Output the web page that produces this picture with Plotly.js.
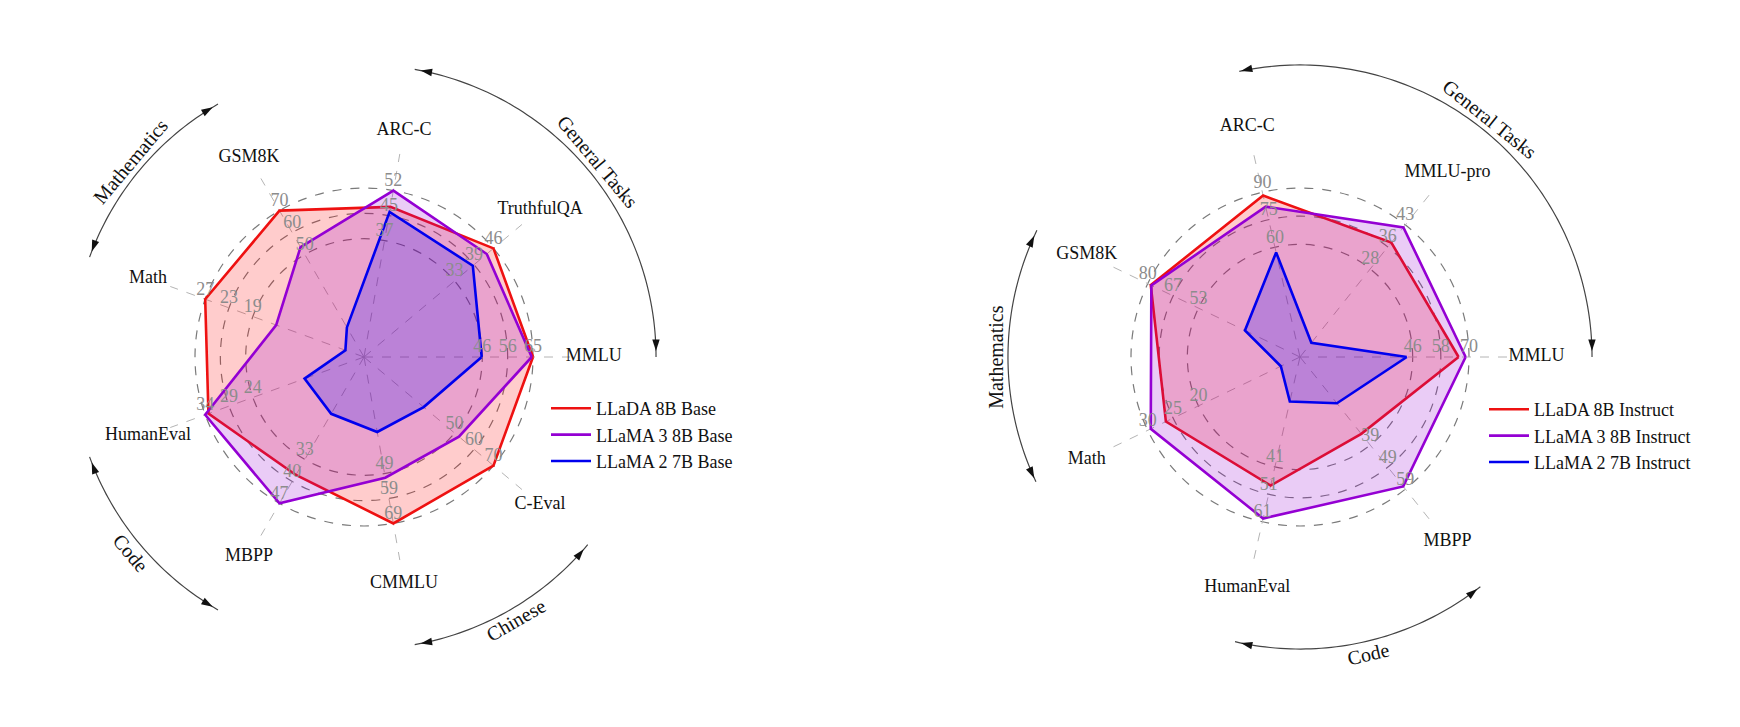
<!DOCTYPE html>
<html>
<head>
<meta charset="utf-8">
<script src="https://cdn.plot.ly/plotly-3.0.1.min.js"></script>
<style>
html, body { margin: 0; padding: 0; background: #fff; }
#chart { width: 1740px; height: 727px; }
</style>
</head>
<body>
<div id="chart"></div>
<script>
// ---- Base models (left radar) ----
const baseCategories = ['MMLU', 'TruthfulQA', 'ARC-C', 'GSM8K', 'Math', 'HumanEval', 'MBPP', 'CMMLU', 'C-Eval'];
const baseLLaDA  = [65.9, 46.4, 47.9, 70.7, 27.3, 33.5, 38.2, 69.9, 70.5];
const baseLLaMA3 = [65.4, 44.0, 53.1, 53.1, 15.1, 34.2, 47.4, 50.7, 51.7];
const baseLLaMA2 = [45.9, 39.0, 46.3, 14.3, 3.2, 12.8, 18.4, 31.5, 32.5];
// value that sits on the outer ring of each axis
const baseScale  = [65.9, 46.4, 53.1, 70.7, 27.3, 34.2, 47.4, 69.9, 70.5];
const baseTickLabels = [
    ['46', '56', '65'], ['33', '39', '46'], ['37', '45', '52'],
    ['50', '60', '70'], ['19', '23', '27'], ['24', '29', '34'],
    ['33', '40', '47'], ['49', '59', '69'], ['50', '60', '70']
];
const baseGroups = [
    { name: 'General Tasks', from: 0, to: 2 },
    { name: 'Mathematics', from: 3, to: 4 },
    { name: 'Code', from: 5, to: 6 },
    { name: 'Chinese', from: 7, to: 8 }
];
const baseNames = ['LLaDA 8B Base', 'LLaMA 3 8B Base', 'LLaMA 2 7B Base'];

// ---- Instruct models (right radar) ----
const instCategories = ['MMLU', 'MMLU-pro', 'ARC-C', 'GSM8K', 'Math', 'HumanEval', 'MBPP'];
const instLLaDA  = [65.5, 37.0, 88.5, 78.6, 26.6, 47.6, 34.2];
const instLLaMA3 = [68.4, 41.9, 82.4, 78.3, 29.6, 59.8, 57.6];
const instLLaMA2 = [44.1, 4.6, 57.3, 29.0, 3.8, 16.5, 20.6];
const instScale  = [69.8, 42.7, 90.3, 80.2, 30.2, 61.0, 58.8];
const instTickLabels = [
    ['46', '58', '70'], ['28', '36', '43'], ['60', '75', '90'],
    ['53', '67', '80'], ['20', '25', '30'], ['41', '51', '61'],
    ['39', '49', '59']
];
const instGroups = [
    { name: 'General Tasks', from: 0, to: 2 },
    { name: 'Mathematics', from: 3, to: 4 },
    { name: 'Code', from: 5, to: 6 }
];
const instNames = ['LLaDA 8B Instruct', 'LLaMA 3 8B Instruct', 'LLaMA 2 7B Instruct'];

const seriesColors = ['#ee1111', '#9400d3', '#0000ee'];
const seriesFills = ['rgba(255,0,0,0.2)', 'rgba(148,0,211,0.2)', 'rgba(0,0,255,0.2)'];
const FONT = 'Liberation Serif, Times New Roman, serif';

const W = 1740, H = 727;
const UNIT = 169;      // pixels for r = 1
const RMAX = 1.85;

function buildRadar(opt) {
    const n = opt.categories.length;
    const ang = opt.categories.map((c, i) => i * 360 / n);
    const traces = [];
    const anns = [];

    // spokes
    const sr = [], st = [];
    ang.forEach(a => { sr.push(0, opt.spoke, null); st.push(a, a, null); });
    traces.push({
        type: 'scatterpolar', subplot: opt.subplot, r: sr, theta: st, mode: 'lines',
        line: { color: '#b4b4b4', width: 1, dash: 'dash' }, hoverinfo: 'skip', showlegend: false
    });

    // model polygons: fill first, then an outline trace that also feeds the legend
    opt.series.forEach((vals, k) => {
        const r = vals.map((v, i) => v / opt.scale[i]);
        const rc = r.concat([r[0]]), tc = ang.concat([ang[0]]);
        traces.push({
            type: 'scatterpolar', subplot: opt.subplot, r: rc, theta: tc,
            mode: 'lines', fill: 'toself', fillcolor: seriesFills[k],
            line: { color: seriesColors[k], width: 0 }, hoverinfo: 'skip', showlegend: false
        });
        traces.push({
            type: 'scatterpolar', subplot: opt.subplot, legend: opt.legend, r: rc, theta: tc,
            mode: 'lines', line: { color: seriesColors[k], width: 2.6 }, name: opt.names[k]
        });
    });

    // per-axis tick labels
    const tr = [], tt = [], tx = [];
    ang.forEach((a, i) => {
        opt.rings.forEach((rv, j) => { tr.push(rv); tt.push(a); tx.push(opt.ticks[i][j]); });
    });
    traces.push({
        type: 'scatterpolar', subplot: opt.subplot, r: tr, theta: tt, text: tx, mode: 'text',
        textposition: 'top center', textfont: { family: FONT, size: 18, color: '#8c8c8c' },
        hoverinfo: 'skip', showlegend: false
    });

    // category labels
    traces.push({
        type: 'scatterpolar', subplot: opt.subplot, r: ang.map(() => opt.labelR), theta: ang,
        text: opt.categories, mode: 'text', textposition: 'middle center',
        textfont: { family: FONT, size: 18, color: '#111' }, hoverinfo: 'skip', showlegend: false
    });

    // group arcs with arrowheads and names
    opt.groups.forEach(g => {
        const a = ang[g.from], b = ang[g.to];
        const th = [];
        for (let t = a; t <= b + 0.001; t += 1) th.push(t);
        traces.push({
            type: 'scatterpolar', subplot: opt.subplot, r: th.map(() => opt.arcR), theta: th,
            mode: 'lines', line: { color: '#444', width: 1.2 }, hoverinfo: 'skip', showlegend: false
        });
        traces.push({
            type: 'scatterpolar', subplot: opt.subplot, r: [opt.arcR, opt.arcR], theta: [a + 1.2, b - 1.2],
            mode: 'markers', marker: { symbol: 'arrow', size: 12, color: '#111', angle: [180 - a, -b] },
            hoverinfo: 'skip', showlegend: false
        });
        const mid = (a + b) / 2;
        const rad = mid * Math.PI / 180;
        const px = opt.cx + opt.textR * UNIT * Math.cos(rad);
        const py = opt.cy - opt.textR * UNIT * Math.sin(rad);
        anns.push({
            xref: 'paper', yref: 'paper', x: px / W, y: 1 - py / H, xanchor: 'center', yanchor: 'middle',
            text: g.name, showarrow: false, textangle: mid <= 180 ? 90 - mid : 270 - mid,
            font: { family: FONT, size: 20, color: '#111' }
        });
    });

    const p = RMAX * UNIT;
    const polar = {
        domain: { x: [(opt.cx - p) / W, (opt.cx + p) / W], y: [1 - (opt.cy + p) / H, 1 - (opt.cy - p) / H] },
        bgcolor: 'rgba(0,0,0,0)',
        radialaxis: {
            range: [0, RMAX], tickvals: opt.rings, showticklabels: false, ticks: '', showline: false,
            gridcolor: '#7a7a7a', gridwidth: 1.2, griddash: 'dash'
        },
        angularaxis: {
            rotation: 0, direction: 'counterclockwise', showgrid: false, showline: false,
            showticklabels: false, ticks: ''
        }
    };
    return { traces, anns, polar };
}

const left = buildRadar({
    subplot: 'polar', legend: 'legend', cx: 364, cy: 357,
    categories: baseCategories, series: [baseLLaDA, baseLLaMA3, baseLLaMA2], scale: baseScale,
    ticks: baseTickLabels, rings: [0.7, 0.85, 1.0], groups: baseGroups, names: baseNames,
    spoke: 1.22, labelR: 1.36, arcR: 1.728, textR: 1.80
});
const right = buildRadar({
    subplot: 'polar2', legend: 'legend2', cx: 1300, cy: 357,
    categories: instCategories, series: [instLLaDA, instLLaMA3, instLLaMA2], scale: instScale,
    ticks: instTickLabels, rings: [2 / 3, 5 / 6, 1.0], groups: instGroups, names: instNames,
    spoke: 1.27, labelR: 1.40, arcR: 1.728, textR: 1.80
});

const legendStyle = {
    xanchor: 'left', yanchor: 'top', bgcolor: 'rgba(0,0,0,0)', itemwidth: 40,
    font: { family: FONT, size: 18, color: '#111' }
};

const layout = {
    width: W, height: H,
    margin: { l: 0, r: 0, t: 0, b: 0 },
    paper_bgcolor: '#fff',
    showlegend: true,
    polar: left.polar,
    polar2: right.polar,
    legend: { ...legendStyle, x: 546 / W, y: 1 - 390 / H },
    legend2: { ...legendStyle, x: 1484 / W, y: 1 - 391 / H },
    annotations: left.anns.concat(right.anns)
};

Plotly.newPlot('chart', left.traces.concat(right.traces), layout, { displayModeBar: false, staticPlot: true });
</script>
</body>
</html>
